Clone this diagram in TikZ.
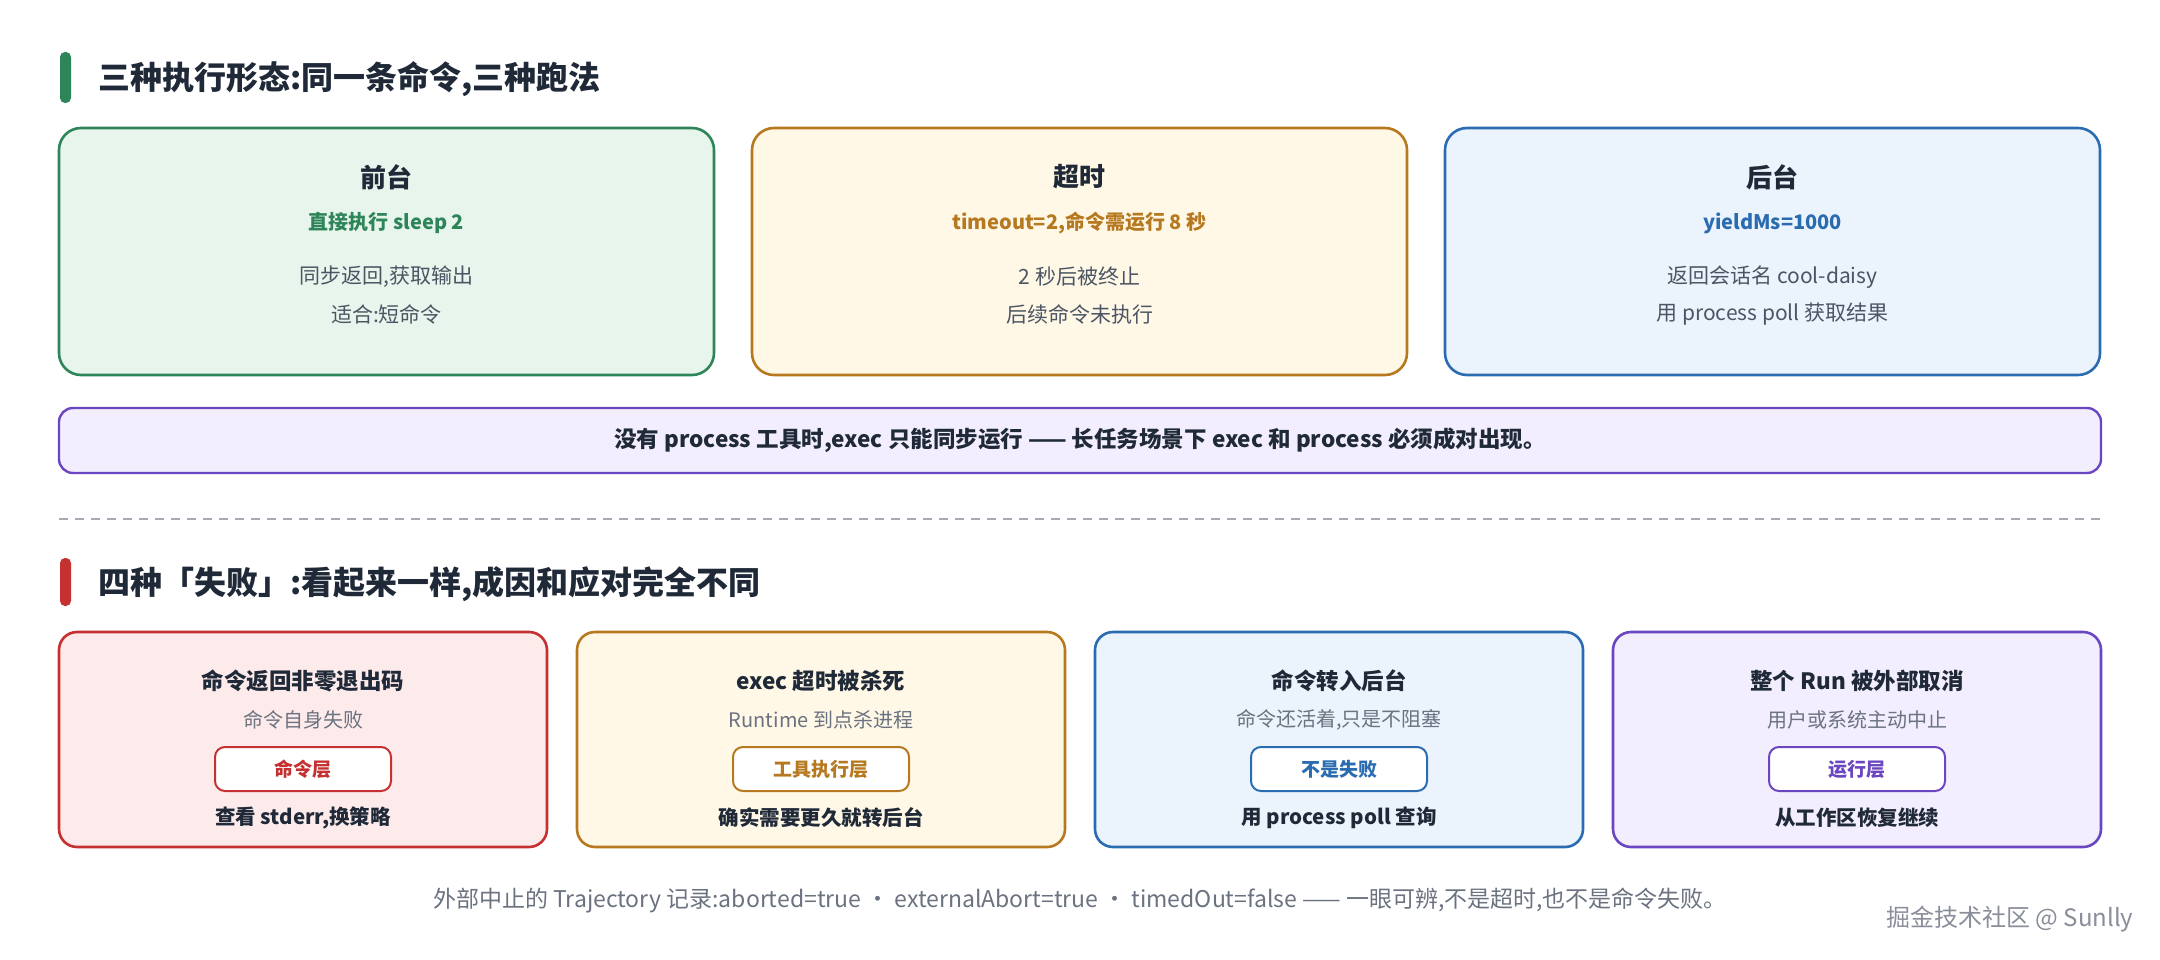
\documentclass[tikz,border=0pt]{standalone}
\usepackage{fontspec}
\setmainfont{Noto Sans CJK SC}
\usetikzlibrary{positioning}
\definecolor{tx}{HTML}{1F2937}
\definecolor{gr}{HTML}{4B5563}
\definecolor{lg}{HTML}{6B7280}
\definecolor{gB}{HTML}{2F855A}\definecolor{gF}{HTML}{E8F5EC}
\definecolor{oB}{HTML}{B7791F}\definecolor{oF}{HTML}{FFF8E6}
\definecolor{bB}{HTML}{2B6CB0}\definecolor{bF}{HTML}{EBF3FD}
\definecolor{pB}{HTML}{6B46C1}\definecolor{pF}{HTML}{F3EEFD}
\definecolor{rB}{HTML}{C53030}\definecolor{rF}{HTML}{FDEBEC}
\tikzset{
 card/.style={draw=#1B,fill=#1F,line width=2.6pt,rounded corners=22pt},
 badge/.style={draw=#1B,fill=white,line width=2pt,rounded corners=10pt,minimum width=176pt,minimum height=44pt,text=#1B,font=\fontsize{19}{21}\selectfont\bfseries},
 ttl/.style={font=\fontsize{32}{35}\selectfont\bfseries,text=tx,anchor=west},
 ct/.style={font=\fontsize{26}{29}\selectfont\bfseries,text=tx},
 cs/.style={font=\fontsize{20}{24}\selectfont\bfseries,text=#1},
 cl/.style={font=\fontsize{21}{24}\selectfont,text=gr},
 t2/.style={font=\fontsize{22.5}{26}\selectfont\bfseries,text=tx},
 s2/.style={font=\fontsize{20}{23}\selectfont,text=lg},
 b2/.style={font=\fontsize{20.5}{24}\selectfont\bfseries,text=tx},
}
\begin{document}
\begin{tikzpicture}[x=1pt,y=-1pt]
\useasboundingbox[fill=white] (0,0) rectangle (2160,960);
% section 1
\fill[gB,rounded corners=5pt] (60,52) rectangle (71,103);
\node[ttl] (h1) at (95,79) {三种执行形态:同一条命令,三种跑法};
\foreach \c/\x/\t/\s/\a/\b [count=\i] in {g/59/前台/直接执行 sleep 2/{同步返回,获取输出}/适合:短命令,
  o/752/超时/{timeout=2,命令需运行 8 秒}/2 秒后被终止/后续命令未执行,
  b/1445/后台/yieldMs=1000/返回会话名 cool-daisy/用 process poll 获取结果}{
  \draw[card=\c] (\x,128) rectangle ++(655,247);
  \node[ct] (c\i t) at (\x+327.5,177) {\t};
  \node[cs=\c B] (c\i s) at (\x+327.5,223) {\s};
  \node[cl] (c\i a) at (\x+327.5,277) {\a};
  \node[cl] (c\i b) at (\x+327.5,314) {\b};
}
\draw[card=p,line width=2.4pt,rounded corners=14pt] (59,408) rectangle (2101,473);
\node[font=\fontsize{22.5}{26}\selectfont\bfseries,text=tx] (note) at (1080,440) {没有 process 工具时,exec 只能同步运行 —— 长任务场景下 exec 和 process 必须成对出现。};
\draw[lg!60,line width=1.5pt,dash pattern=on 9pt off 7pt] (59,519) -- (2101,519);
% section 2
\fill[rB,rounded corners=5pt] (60,558) rectangle (71,606);
\node[ttl] (h2) at (95,584) {四种「失败」:看起来一样,成因和应对完全不同};
\foreach \c/\x/\t/\s/\g/\b [count=\i] in {r/59/命令返回非零退出码/命令自身失败/命令层/{查看 stderr,换策略},
  o/577/exec 超时被杀死/Runtime 到点杀进程/工具执行层/确实需要更久就转后台,
  b/1095/命令转入后台/{命令还活着,只是不阻塞}/不是失败/用 process poll 查询,
  p/1613/整个 Run 被外部取消/用户或系统主动中止/运行层/从工作区恢复继续}{
  \draw[card=\c,rounded corners=18pt] (\x,632) rectangle ++(488,215);
  \node[t2] (d\i t) at (\x+244,681) {\t};
  \node[s2] (d\i s) at (\x+244,720) {\s};
  \node[badge=\c] (d\i g) at (\x+244,769) {\g};
  \node[b2] (d\i b) at (\x+244,818) {\b};
}
\node[font=\fontsize{23}{26}\selectfont,text=lg] (foot) at (1080,900) {外部中止的 Trajectory 记录:aborted=true ・ externalAbort=true ・ timedOut=false —— 一眼可辨,不是超时,也不是命令失败。};
\node[font=\fontsize{24}{28}\selectfont,text=lg!80,anchor=east] (wm) at (2137,919) {掘金技术社区 @ Sunlly};
\end{tikzpicture}
\end{document}
